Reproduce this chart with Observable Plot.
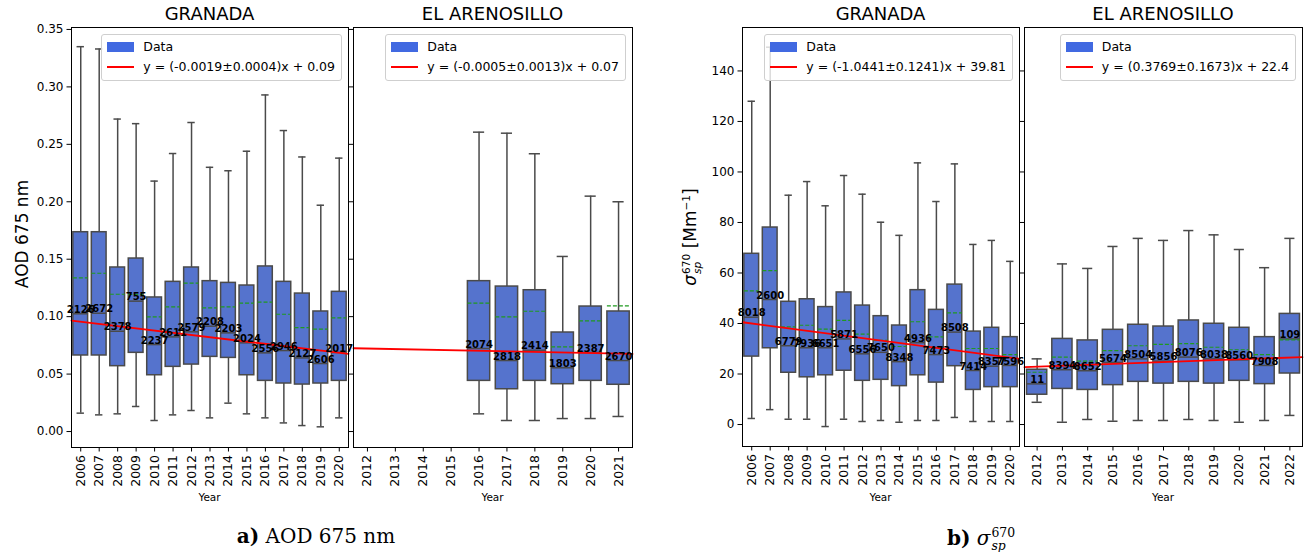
<!DOCTYPE html>
<html><head><meta charset="utf-8">
<script src="https://cdn.jsdelivr.net/npm/d3@7"></script>
<script src="https://cdn.jsdelivr.net/npm/@observablehq/plot@0.6"></script>
<style>
body{margin:0;background:#fff;font-family:"DejaVu Sans",sans-serif;}
#root{position:relative;width:1308px;height:552px;overflow:hidden;background:#fff;}
.abs{position:absolute;white-space:nowrap;color:#000;}
.title{font-size:18px;line-height:18px;transform:translateX(-50%);}
.year{font-size:10.5px;line-height:11px;transform:translateX(-50%);}
.ylab{font-size:17px;line-height:20px;transform:translate(-50%,-50%) rotate(-90deg);}
.legend{border:1px solid #cfcfcf;border-radius:3px;background:rgba(255,255,255,0.8);padding:2px 6px 3px 5px;font-size:12.5px;line-height:20px;}
.row{display:flex;align-items:center;height:20px;}
.patch{width:27px;height:10px;background:#4169E1;margin-right:9px;}
.lline{width:27px;height:2px;background:red;margin-right:9px;}
.cap{font-family:"DejaVu Serif",serif;font-size:20px;line-height:20px;transform:translateX(-50%);}
.st{display:inline-flex;flex-direction:column;vertical-align:middle;font-size:0.62em;line-height:1.05;margin-left:1px;}
</style></head>
<body><div id="root"></div>
<script>
// ---------- AOD 675 nm, GRANADA ----------
const aodGranadaYears = [2006,2007,2008,2009,2010,2011,2012,2013,2014,2015,2016,2017,2018,2019,2020];
const aodGranadaHi   = [0.335,0.333,0.272,0.268,0.218,0.242,0.269,0.230,0.227,0.244,0.293,0.262,0.239,0.197,0.238];
const aodGranadaQ3   = [0.1735,0.1735,0.1428,0.1506,0.1167,0.1303,0.1428,0.1309,0.1294,0.1271,0.1437,0.1303,0.1201,0.1045,0.1216];
const aodGranadaMed  = [0.1025,0.1030,0.0873,0.1135,0.0757,0.0824,0.0868,0.0917,0.0859,0.0772,0.0685,0.0705,0.0641,0.0592,0.0688];
const aodGranadaQ1   = [0.0662,0.0662,0.0569,0.0685,0.0490,0.0563,0.0583,0.0650,0.0641,0.0490,0.0441,0.0418,0.0409,0.0418,0.0441];
const aodGranadaLo   = [0.0160,0.0145,0.0154,0.0218,0.0096,0.0145,0.0183,0.0119,0.0247,0.0154,0.0119,0.0075,0.0052,0.0041,0.0119];
const aodGranadaMean = [0.1338,0.1378,0.1195,0.1193,0.0998,0.1085,0.1291,0.1077,0.1085,0.1117,0.1126,0.1021,0.0905,0.0891,0.0990];
const aodGranadaN    = ["2126","2672","2378","755","2237","2611","2579","2208","2203","2024","2556","2946","2127","2606","2017"];
const aodGranadaTrend = [0.0966, 0.0676];
const aodGranadaLegend = "y = (-0.0019±0.0004)x + 0.09";

// ---------- AOD 675 nm, EL ARENOSILLO ----------
const aodArenAxisYears = [2012,2013,2014,2015,2016,2017,2018,2019,2020,2021];
const aodArenYears = [2016,2017,2018,2019,2020,2021];
const aodArenHi   = [0.2606,0.2597,0.2418,0.1524,0.2049,0.2000];
const aodArenQ3   = [0.1309,0.1262,0.1230,0.0862,0.1088,0.1045];
const aodArenMed  = [0.0723,0.0618,0.0708,0.0555,0.0688,0.0618];
const aodArenQ1   = [0.0441,0.0368,0.0441,0.0412,0.0441,0.0407];
const aodArenLo   = [0.0154,0.0096,0.0096,0.0113,0.0113,0.0131];
const aodArenMean = [0.1117,0.0998,0.1047,0.0737,0.0964,0.1094];
const aodArenN    = ["2074","2818","2414","1803","2387","2670"];
const aodArenTrend = [0.0725, 0.0676];
const aodArenLegend = "y = (-0.0005±0.0013)x + 0.07";

// ---------- sigma_sp 670, GRANADA ----------
const sigGranadaYears = [2006,2007,2008,2009,2010,2011,2012,2013,2014,2015,2016,2017,2018,2019,2020];
const sigGranadaHi   = [128.0,149.4,90.8,96.2,86.6,98.6,91.2,80.1,74.9,103.6,88.3,103.2,71.3,72.9,64.6];
const sigGranadaQ3   = [67.6,78.0,48.6,49.6,46.5,52.3,47.1,42.9,39.2,53.2,45.4,55.4,36.8,38.3,34.6];
const sigGranadaMed  = [42.5,49.5,31.2,30.4,30.4,33.9,28.0,28.6,24.9,32.4,27.7,36.6,21.4,23.1,23.4];
const sigGranadaQ1   = [26.9,30.2,20.5,18.7,19.5,21.3,17.3,17.7,15.2,19.5,16.6,23.1,13.7,14.8,14.8];
const sigGranadaLo   = [2.4,5.9,2.1,2.1,-0.8,2.1,1.2,1.6,0.9,1.6,1.6,2.8,1.2,1.2,1.2];
const sigGranadaMean = [52.9,60.9,38.7,39.3,37.8,41.2,35.8,33.3,30.9,40.7,34.7,44.2,30.1,30.1,27.7];
const sigGranadaN    = ["8018","2600","6779","7936","6651","5871","6556","7650","8348","4936","7473","8508","7414","8357","7596"];
const sigGranadaTrend = [40.5, 26.0];
const sigGranadaLegend = "y = (-1.0441±0.1241)x + 39.81";

// ---------- sigma_sp 670, EL ARENOSILLO ----------
const sigArenYears = [2012,2013,2014,2015,2016,2017,2018,2019,2020,2021,2022];
const sigArenHi   = [26.0,63.6,61.8,70.5,73.7,72.9,76.8,75.1,69.3,62.1,73.7];
const sigArenQ3   = [21.7,33.9,33.3,37.5,39.5,38.8,41.2,39.9,38.3,34.6,43.8];
const sigArenMed  = [16.1,21.7,21.3,24.6,26.0,25.1,26.7,26.0,25.6,23.4,33.9];
const sigArenQ1   = [11.8,14.1,13.7,15.6,16.9,16.2,16.9,16.2,17.3,16.0,20.2];
const sigArenLo   = [8.8,0.9,2.0,1.3,1.6,1.6,2.0,1.6,0.9,1.6,3.6];
const sigArenMean = [20.7,26.7,25.1,29.3,31.2,31.7,32.0,30.6,29.6,27.7,33.5];
const sigArenN    = ["11","8394","8652","5674","8504","5856","8076","8038","8560","7908","109"];
const sigArenTrend = [22.7, 26.7];
const sigArenLegend = "y = (0.3769±0.1673)x + 22.4";

// tick labels
const aodTicks = [0.00,0.05,0.10,0.15,0.20,0.25,0.30,0.35];
const sigTicks = [0,20,40,60,80,100,120,140];
const titles = ["GRANADA","EL ARENOSILLO","GRANADA","EL ARENOSILLO"];

const boxFill = "#5573CD", edge = "#4a4a4a", meanColor = "#1f9a1f";

function rows(years, lo, q1, med, q3, hi, mean, n) {
  return years.map((year, i) => ({year, lo: lo[i], q1: q1[i], med: med[i], q3: q3[i], hi: hi[i], mean: mean[i], n: n[i]}));
}

function panel({axisYears, data, trend, yDomain, yTicks, yFormat, width, marginLeft, marginBottom}) {
  const first = axisYears[0], last = axisYears[axisYears.length - 1];
  const trendRows = [{x: first - 0.5, y: trend[0]}, {x: last + 0.5, y: trend[1]}];
  return Plot.plot({
    width, height: 500, marginLeft, marginRight: 4, marginTop: 27, marginBottom,
    style: {background: "transparent", fontFamily: "DejaVu Sans", overflow: "visible"},
    x: {type: "linear", domain: [first - 0.5, last + 0.5]},
    y: {domain: yDomain},
    marks: [
      Plot.ruleX(data, {x: "year", y1: "q3", y2: "hi", stroke: edge, strokeWidth: 1.5}),
      Plot.ruleX(data, {x: "year", y1: "lo", y2: "q1", stroke: edge, strokeWidth: 1.5}),
      Plot.ruleY(data, {y: "hi", x1: d => d.year - 0.2, x2: d => d.year + 0.2, stroke: edge, strokeWidth: 1.5}),
      Plot.ruleY(data, {y: "lo", x1: d => d.year - 0.2, x2: d => d.year + 0.2, stroke: edge, strokeWidth: 1.5}),
      Plot.rect(data, {x1: d => d.year - 0.4, x2: d => d.year + 0.4, y1: "q1", y2: "q3", fill: boxFill, stroke: edge, strokeWidth: 1.5}),
      Plot.ruleY(data, {y: "med", x1: d => d.year - 0.4, x2: d => d.year + 0.4, stroke: edge, strokeWidth: 1.5}),
      Plot.ruleY(data, {y: "mean", x1: d => d.year - 0.4, x2: d => d.year + 0.4, stroke: meanColor, strokeWidth: 1.2, strokeDasharray: "4,2"}),
      Plot.line(trendRows, {x: "x", y: "y", stroke: "red", strokeWidth: 1.8}),
      Plot.text(data, {x: "year", y: "med", text: "n", dy: -4, fontWeight: "bold", fontSize: 10, fill: "black", fontFamily: "DejaVu Sans"}),
      Plot.frame({stroke: "black", strokeWidth: 1}),
      Plot.axisX(axisYears, {tickFormat: d => String(d), tickRotate: -90, textAnchor: "end", lineAnchor: "middle", tickSize: 4.5, tickPadding: 3, fontSize: 12.5, label: null, stroke: "black", fill: "black"}),
      Plot.axisY(yTicks, {tickFormat: yFormat, tickSize: 4.5, tickPadding: 3.5, fontSize: 12, label: null, stroke: "black", fill: "black"})
    ]
  });
}

const root = document.getElementById("root");
const fmt2 = d3.format(".2f");
const none = () => "";

const specs = [
  {left: 0,    width: 352, marginLeft: 71, marginBottom: 53, axisYears: aodGranadaYears,
   data: rows(aodGranadaYears, aodGranadaLo, aodGranadaQ1, aodGranadaMed, aodGranadaQ3, aodGranadaHi, aodGranadaMean, aodGranadaN),
   trend: aodGranadaTrend, yDomain: [-0.0139, 0.3517], yTicks: aodTicks, yFormat: fmt2, legend: aodGranadaLegend},
  {left: 346,  width: 290, marginLeft: 7, marginBottom: 53, axisYears: aodArenAxisYears,
   data: rows(aodArenYears, aodArenLo, aodArenQ1, aodArenMed, aodArenQ3, aodArenHi, aodArenMean, aodArenN),
   trend: aodArenTrend, yDomain: [-0.0139, 0.3517], yTicks: aodTicks, yFormat: none, legend: aodArenLegend},
  {left: 690,  width: 333, marginLeft: 52, marginBottom: 54, axisYears: sigGranadaYears,
   data: rows(sigGranadaYears, sigGranadaLo, sigGranadaQ1, sigGranadaMed, sigGranadaQ3, sigGranadaHi, sigGranadaMean, sigGranadaN),
   trend: sigGranadaTrend, yDomain: [-8.7, 157.2], yTicks: sigTicks, yFormat: d => String(d), legend: sigGranadaLegend},
  {left: 1017, width: 289, marginLeft: 7, marginBottom: 54, axisYears: sigArenYears,
   data: rows(sigArenYears, sigArenLo, sigArenQ1, sigArenMed, sigArenQ3, sigArenHi, sigArenMean, sigArenN),
   trend: sigArenTrend, yDomain: [-8.7, 157.2], yTicks: sigTicks, yFormat: none, legend: sigArenLegend}
];

specs.forEach((s, i) => {
  const svg = panel(s);
  svg.style.position = "absolute";
  svg.style.left = s.left + "px";
  svg.style.top = "0px";
  root.appendChild(svg);
  const frameL = s.left + s.marginLeft, frameR = s.left + s.width - 4;
  const cx = (frameL + frameR) / 2;
  const t = document.createElement("div");
  t.className = "abs title"; t.style.left = cx + "px"; t.style.top = "5px"; t.textContent = titles[i];
  root.appendChild(t);
  const y = document.createElement("div");
  y.className = "abs year"; y.style.left = cx + "px"; y.style.top = "492px"; y.textContent = "Year";
  root.appendChild(y);
  const lg = document.createElement("div");
  lg.className = "abs legend";
  lg.style.right = (1308 - (frameR - 6)) + "px"; lg.style.top = "34px";
  lg.innerHTML = `<div class="row"><div class="patch"></div><span>Data</span></div><div class="row"><div class="lline"></div><span>${s.legend}</span></div>`;
  root.appendChild(lg);
});

const yl1 = document.createElement("div");
yl1.className = "abs ylab"; yl1.style.left = "22px"; yl1.style.top = "234px"; yl1.textContent = "AOD 675 nm";
root.appendChild(yl1);
const yl2 = document.createElement("div");
yl2.className = "abs ylab"; yl2.style.left = "689px"; yl2.style.top = "237px";
yl2.innerHTML = `<i>σ</i><span class="st"><span>670</span><i>sp</i></span> [Mm<sup style="font-size:0.62em">−1</sup>]`;
root.appendChild(yl2);

const ca = document.createElement("div");
ca.className = "abs cap"; ca.style.left = "316px"; ca.style.top = "526px";
ca.innerHTML = `<b>a)</b> AOD 675 nm`;
root.appendChild(ca);
const cb = document.createElement("div");
cb.className = "abs cap"; cb.style.left = "981px"; cb.style.top = "526px";
cb.innerHTML = `<b>b)</b> <i>σ</i><span class="st"><span>670</span><i>sp</i></span>`;
root.appendChild(cb);
</script>
</body></html>
